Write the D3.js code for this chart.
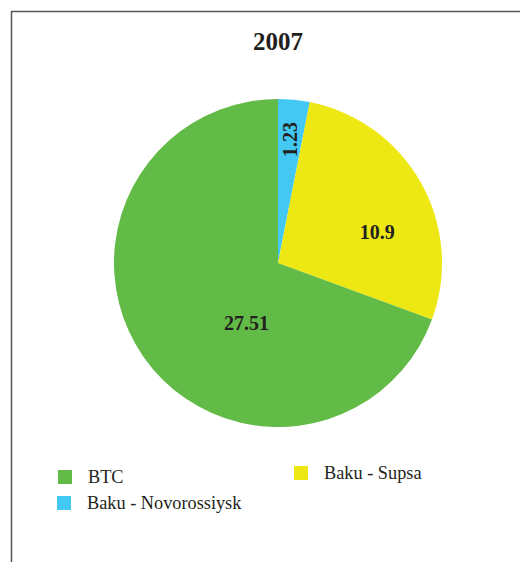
<!DOCTYPE html>
<html>
<head>
<meta charset="utf-8">
<script src="https://cdn.jsdelivr.net/npm/d3@7"></script>
<style>
  html, body { margin: 0; padding: 0; background: #fff; }
  svg { display: block; font-family: "Liberation Serif", "DejaVu Serif", serif; }
</style>
</head>
<body>
<svg id="chart" width="520" height="562"></svg>
<script>
// 2007 pipeline shares pie
const title = "2007";
const pipelines = ["Baku - Novorossiysk", "Baku - Supsa", "BTC"];
const volumes = [1.23, 10.9, 27.51];
const colors = ["#42c8f2", "#ede814", "#62bb46"];
const legendOrder = ["BTC", "Baku - Novorossiysk", "Baku - Supsa"];

const svg = d3.select("#chart");
const cx = 278, cy = 263, radius = 164;

// frame (left + top edges)
svg.append("path")
  .attr("d", "M11.5,562 V11.5 H520")
  .attr("fill", "none")
  .attr("stroke", "#555")
  .attr("stroke-width", 1.5);

svg.append("text")
  .attr("x", cx)
  .attr("y", 50)
  .attr("text-anchor", "middle")
  .attr("font-size", 25)
  .attr("font-weight", "bold")
  .attr("fill", "#231f20")
  .text(title);

const color = d3.scaleOrdinal().domain(pipelines).range(colors);
const rows = pipelines.map((name, i) => ({ name, value: volumes[i] }));

const pie = d3.pie().sort(null).value((d) => d.value);
const arcs = pie(rows);
const arc = d3.arc().innerRadius(0).outerRadius(radius);

const g = svg.append("g").attr("transform", `translate(${cx},${cy})`);

g.selectAll(".slice")
  .data(arcs)
  .join("path")
  .attr("class", "slice")
  .attr("d", arc)
  .attr("fill", (d) => color(d.data.name));

// label placement roughly like the source (fraction of slice angle, radius)
const labelPos = {
  "Baku - Novorossiysk": { a: 0.5, r: 124, rotate: -90 },
  "Baku - Supsa": { a: 0.62, r: 104, rotate: 0 },
  "BTC": { a: 0.39, r: 68, rotate: 0 },
};

g.selectAll(".slice-label")
  .data(arcs)
  .join("text")
  .attr("class", "slice-label")
  .attr("transform", (d) => {
    const p = labelPos[d.data.name];
    const ang = d.startAngle + (d.endAngle - d.startAngle) * p.a;
    const x = Math.sin(ang) * p.r;
    const y = -Math.cos(ang) * p.r;
    return `translate(${x},${y}) rotate(${p.rotate})`;
  })
  .attr("text-anchor", "middle")
  .attr("dy", "0.35em")
  .attr("font-size", 20)
  .attr("font-weight", "bold")
  .attr("fill", "#231f20")
  .text((d) => d.data.value);

// legend
const legendSpots = {
  "BTC": [58, 470],
  "Baku - Novorossiysk": [57, 496],
  "Baku - Supsa": [294, 466],
};

const legend = svg.selectAll(".legend-item")
  .data(legendOrder)
  .join("g")
  .attr("class", "legend-item")
  .attr("transform", (d) => `translate(${legendSpots[d][0]},${legendSpots[d][1]})`);

legend.append("rect")
  .attr("width", 14)
  .attr("height", 14)
  .attr("fill", (d) => color(d));

legend.append("text")
  .attr("x", 30)
  .attr("y", 13)
  .attr("font-size", 18.3)
  .attr("fill", "#231f20")
  .text((d) => d);
</script>
</body>
</html>
